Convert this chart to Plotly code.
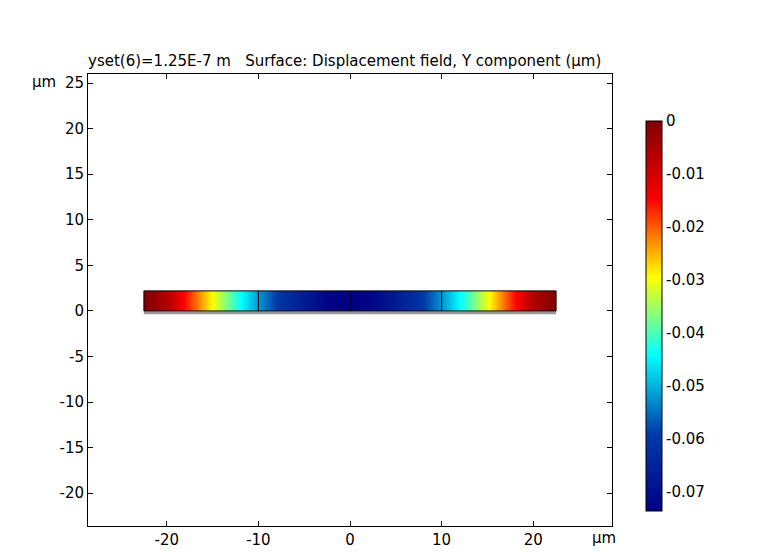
import plotly.graph_objects as go

# displacement (um) along beam, symmetric about 0
x_pos = [-22.5, -20, -17.5, -15, -12.5, -10, -7.5, -5, -2.5, 0,
         2.5, 5, 7.5, 10, 12.5, 15, 17.5, 20, 22.5]
half = [0.0, -0.006, -0.018, -0.030, -0.042, -0.052, -0.061, -0.067, -0.072, -0.0736]
disp = half + half[-2::-1]
y_pos = [0.0, 2.2]
bounds = [-10, 0, 10]
beam_x = [-22.5, 22.5]
under_y = -0.2
x_ticks = [-20, -10, 0, 10, 20]
y_ticks = [-20, -15, -10, -5, 0, 5, 10, 15, 20, 25]
cb_ticks = [0, -0.01, -0.02, -0.03, -0.04, -0.05, -0.06, -0.07]

fig = go.Figure()
fig.add_trace(go.Contour(
    x=x_pos, y=y_pos, z=[disp, disp], colorscale="Jet", zmin=-0.0736, zmax=0,
    contours=dict(coloring="heatmap", showlines=False, start=-0.0736, end=0, size=0.002),
    line=dict(width=0),
    colorbar=dict(thickness=16, len=0.907, y=0.4646, x=1.046, xanchor="left",
                  tickvals=cb_ticks, ticktext=[f"{v:g}" for v in cb_ticks],
                  outlinewidth=1, outlinecolor="black", ticks="", tickfont=dict(size=15)),
))
# undeformed edge
fig.add_trace(go.Scatter(x=beam_x, y=[under_y, under_y], mode="lines",
                         line=dict(color="#999999", width=3), showlegend=False, hoverinfo="skip"))
# beam outline
fig.add_trace(go.Scatter(x=[beam_x[0], beam_x[1], beam_x[1], beam_x[0], beam_x[0]],
                         y=[y_pos[0], y_pos[0], y_pos[1], y_pos[1], y_pos[0]], mode="lines",
                         line=dict(color="black", width=1), showlegend=False, hoverinfo="skip"))
for b in bounds:
    fig.add_trace(go.Scatter(x=[b, b], y=y_pos, mode="lines",
                             line=dict(color="black", width=1), showlegend=False, hoverinfo="skip"))

axis = dict(showgrid=False, zeroline=False, showline=True, linecolor="black", mirror="ticks",
            ticks="inside", ticklen=5, tickcolor="black", tickfont=dict(size=15))
fig.update_xaxes(range=[-28.6, 28.6], tickvals=x_ticks, ticktext=[str(v) for v in x_ticks], **axis)
fig.update_yaxes(range=[-23.6, 26], tickvals=y_ticks, ticktext=[str(v) for v in y_ticks], **axis)
fig.update_layout(
    width=760, height=553, margin=dict(l=80, r=156, t=66, b=35, autoexpand=False),
    paper_bgcolor="white", plot_bgcolor="white",
    font=dict(family="DejaVu Sans", color="black", size=15),
    title=dict(text="yset(6)=1.25E-7 m   Surface: Displacement field, Y component (µm)",
               x=80 / 760, xanchor="left", y=0.905, yanchor="middle", font=dict(size=15)),
    annotations=[
        dict(text="µm", xref="paper", yref="paper", x=0, y=1, xanchor="right", yanchor="middle",
             xshift=-30, yshift=-8, showarrow=False, font=dict(size=15)),
        dict(text="µm", xref="paper", yref="paper", x=1, y=0, xanchor="left", yanchor="middle",
             xshift=-22, yshift=-12, showarrow=False, font=dict(size=15)),
    ],
)
fig.write_html("out.html")
